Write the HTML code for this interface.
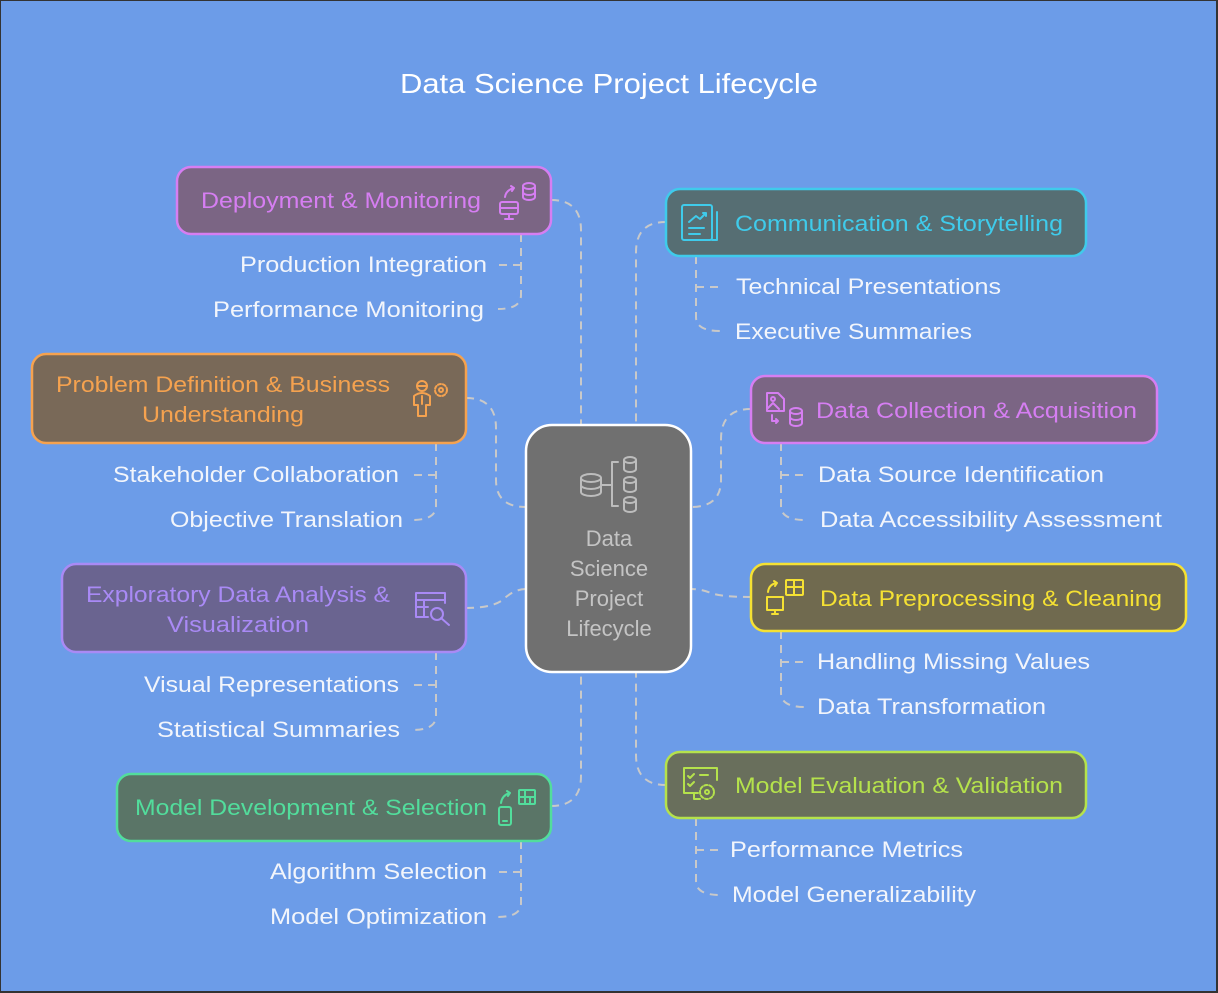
<!DOCTYPE html>
<html><head><meta charset="utf-8"><style>
html,body{margin:0;padding:0;}
body{width:1218px;height:993px;overflow:hidden;background:#333;}
svg{display:block;}
text{font-family:"Liberation Sans",sans-serif;}
.s{fill:#f2f5fb;font-size:22px;}
.c{fill:none;stroke:#c9c9c9;stroke-width:2;stroke-dasharray:8 6;}
.i{fill:none;stroke-width:2;stroke-linecap:round;stroke-linejoin:round;}
</style></head><body>
<svg width="1218" height="993" viewBox="0 0 1218 993" xmlns="http://www.w3.org/2000/svg">
<rect x="1" y="1" width="1215" height="990" fill="#6c9ce8"/>
<text x="609" y="93" text-anchor="middle" fill="#ffffff" font-size="28" textLength="418" lengthAdjust="spacingAndGlyphs">Data Science Project Lifecycle</text>

<!-- main connectors -->
<path class="c" d="M551 200 Q581 200 581 230 L581 425"/>
<path class="c" d="M666 222 Q636 222 636 252 L636 425"/>
<path class="c" d="M466 398 Q496 398 496 428 L496 480 Q496 507 526 507"/>
<path class="c" d="M751 409 Q721 409 721 439 L721 480 Q721 507 691 507"/>
<path class="c" d="M466 608 Q496 608 506 597 Q516 589 526 589"/>
<path class="c" d="M751 597 Q721 597 711 593 Q701 589 691 589"/>
<path class="c" d="M551 806 Q581 806 581 776 L581 672"/>
<path class="c" d="M666 785 Q636 785 636 755 L636 672"/>

<!-- sub connectors -->
<path class="c" d="M521 234 L521 295 Q521 309 498 309 M521 265 L498 265"/>
<path class="c" d="M696 256 L696 317 Q696 331 720 331 M696 287 L720 287"/>
<path class="c" d="M436 443 L436 506 Q436 520 412 520 M436 475 L412 475"/>
<path class="c" d="M781 443 L781 506 Q781 520 805 520 M781 475 L805 475"/>
<path class="c" d="M436 652 L436 716 Q436 730 412 730 M436 685 L412 685"/>
<path class="c" d="M781 631 L781 693 Q781 707 805 707 M781 662 L805 662"/>
<path class="c" d="M521 841 L521 903 Q521 917 498 917 M521 872 L498 872"/>
<path class="c" d="M696 818 L696 881 Q696 895 720 895 M696 850 L720 850"/>

<!-- center -->
<rect x="526" y="425" width="165" height="247" rx="26" fill="#707070" stroke="#ffffff" stroke-width="2.5"/>
<g class="i" stroke="#bdbdbd">
<ellipse cx="591" cy="478" rx="10" ry="4"/><path d="M581 478 V492 A10 4 0 0 0 601 492 V478 M581 485 A10 4 0 0 0 601 485"/>
<path d="M601 485 H612 M618 462 H612 V506 H618"/>
<ellipse cx="630" cy="460" rx="6" ry="3"/><path d="M624 460 V469 A6 3 0 0 0 636 469 V460"/>
<ellipse cx="630" cy="480" rx="6" ry="3"/><path d="M624 480 V489 A6 3 0 0 0 636 489 V480"/>
<ellipse cx="630" cy="500" rx="6" ry="3"/><path d="M624 500 V509 A6 3 0 0 0 636 509 V500"/>
</g>
<g fill="#c4c4c4" font-size="22" text-anchor="middle">
<text x="609" y="546">Data</text><text x="609" y="576">Science</text><text x="609" y="606">Project</text><text x="609" y="636">Lifecycle</text>
</g>

<!-- Deployment -->
<rect x="177" y="167" width="374" height="67" rx="14" fill="#7b6584" stroke="#d67ef2" stroke-width="2.5"/>
<text x="201" y="208" fill="#d67ef2" font-size="22" textLength="280" lengthAdjust="spacingAndGlyphs">Deployment &amp; Monitoring</text>
<g class="i" stroke="#d67ef2"><rect x="500" y="202" width="18" height="12" rx="2"/><path d="M505 219 H513 M509 214 V219 M500 208 H518 M505 197 Q506 190 514 188 M511 186 L514 188 L512 191"/><ellipse cx="529" cy="186" rx="6" ry="3"/><path d="M523 186 V197 A6 3 0 0 0 535 197 V186 M523 192 A6 3 0 0 0 535 192"/></g>
<text class="s" x="487" y="272" text-anchor="end" textLength="247" lengthAdjust="spacingAndGlyphs">Production Integration</text>
<text class="s" x="484" y="317" text-anchor="end" textLength="271" lengthAdjust="spacingAndGlyphs">Performance Monitoring</text>

<!-- Communication -->
<rect x="666" y="189" width="420" height="67" rx="14" fill="#566e73" stroke="#3fcbeb" stroke-width="2.5"/>
<g class="i" stroke="#3fcbeb"><rect x="682" y="205" width="30" height="35" rx="2"/><path d="M717 212 V240 H712 M689 222 L696 216 L700 219 L706 213 M703 213 H706 V216 M689 228 H704 M689 234 H700"/></g>
<text x="735" y="231" fill="#3fcbeb" font-size="22" textLength="328" lengthAdjust="spacingAndGlyphs">Communication &amp; Storytelling</text>
<text class="s" x="736" y="294" textLength="265" lengthAdjust="spacingAndGlyphs">Technical Presentations</text>
<text class="s" x="735" y="339" textLength="237" lengthAdjust="spacingAndGlyphs">Executive Summaries</text>

<!-- Problem -->
<rect x="32" y="354" width="434" height="89" rx="14" fill="#796958" stroke="#f5a24f" stroke-width="2.5"/>
<text x="223" y="392" text-anchor="middle" fill="#f5a24f" font-size="22" textLength="334" lengthAdjust="spacingAndGlyphs">Problem Definition &amp; Business</text>
<text x="223" y="422" text-anchor="middle" fill="#f5a24f" font-size="22" textLength="162" lengthAdjust="spacingAndGlyphs">Understanding</text>
<g class="i" stroke="#f5a24f"><circle cx="422" cy="386" r="5"/><path d="M417 386 H427 M414 405 V396 Q422 390 430 396 V405 H426 V416 H418 V405 Z M422 396 V404"/><circle cx="441" cy="390" r="6" stroke-dasharray="3 2"/><circle cx="441" cy="390" r="2"/></g>
<text class="s" x="399" y="482" text-anchor="end" textLength="286" lengthAdjust="spacingAndGlyphs">Stakeholder Collaboration</text>
<text class="s" x="403" y="527" text-anchor="end" textLength="233" lengthAdjust="spacingAndGlyphs">Objective Translation</text>

<!-- Data Collection -->
<rect x="751" y="376" width="406" height="67" rx="14" fill="#7b6584" stroke="#d67ef2" stroke-width="2.5"/>
<g class="i" stroke="#d67ef2"><path d="M767 393 H778 L784 399 V411 H767 Z"/><circle cx="773" cy="399" r="2"/><path d="M767 409 L773 403 L779 409 M772 415 V421 H778 M776 419 L778 421 L776 423"/><ellipse cx="796" cy="411" rx="6" ry="3"/><path d="M790 411 V423 A6 3 0 0 0 802 423 V411 M790 417 A6 3 0 0 0 802 417"/></g>
<text x="816" y="418" fill="#d67ef2" font-size="22" textLength="321" lengthAdjust="spacingAndGlyphs">Data Collection &amp; Acquisition</text>
<text class="s" x="818" y="482" textLength="286" lengthAdjust="spacingAndGlyphs">Data Source Identification</text>
<text class="s" x="820" y="527" textLength="342" lengthAdjust="spacingAndGlyphs">Data Accessibility Assessment</text>

<!-- EDA -->
<rect x="62" y="564" width="404" height="88" rx="14" fill="#6a6490" stroke="#a98af5" stroke-width="2.5"/>
<text x="238" y="602" text-anchor="middle" fill="#a98af5" font-size="22" textLength="304" lengthAdjust="spacingAndGlyphs">Exploratory Data Analysis &amp;</text>
<text x="238" y="632" text-anchor="middle" fill="#a98af5" font-size="22" textLength="142" lengthAdjust="spacingAndGlyphs">Visualization</text>
<g class="i" stroke="#a98af5"><path d="M428 617 H416 V593 H445 V603 M416 600 H445 M416 607 H428 M424 600 V617"/><circle cx="437" cy="614" r="6"/><path d="M441 618 L449 625"/></g>
<text class="s" x="399" y="692" text-anchor="end" textLength="255" lengthAdjust="spacingAndGlyphs">Visual Representations</text>
<text class="s" x="400" y="737" text-anchor="end" textLength="243" lengthAdjust="spacingAndGlyphs">Statistical Summaries</text>

<!-- Preprocessing -->
<rect x="751" y="564" width="435" height="67" rx="14" fill="#706a4f" stroke="#f5e133" stroke-width="2.5"/>
<g class="i" stroke="#f5e133"><rect x="786" y="580" width="17" height="15" rx="1"/><path d="M786 587 H803 M794 580 V595 M768 592 Q769 584 777 583 M774 581 L777 583 L775 586 M767 597 H783 V610 H767 Z M772 614 H778 M775 610 V614"/></g>
<text x="820" y="606" fill="#f5e133" font-size="22" textLength="342" lengthAdjust="spacingAndGlyphs">Data Preprocessing &amp; Cleaning</text>
<text class="s" x="817" y="669" textLength="273" lengthAdjust="spacingAndGlyphs">Handling Missing Values</text>
<text class="s" x="817" y="714" textLength="229" lengthAdjust="spacingAndGlyphs">Data Transformation</text>

<!-- Model Dev -->
<rect x="117" y="774" width="434" height="67" rx="14" fill="#5a7567" stroke="#52dd9c" stroke-width="2.5"/>
<text x="135" y="815" fill="#52dd9c" font-size="22" textLength="352" lengthAdjust="spacingAndGlyphs">Model Development &amp; Selection</text>
<g class="i" stroke="#52dd9c"><rect x="519" y="790" width="16" height="14" rx="1"/><path d="M519 797 H535 M525 790 V804 M530 797 V804 M501 803 Q502 795 510 793 M507 791 L510 793 L508 796"/><rect x="499" y="807" width="12" height="18" rx="2"/><path d="M503 821 H507"/></g>
<text class="s" x="487" y="879" text-anchor="end" textLength="217" lengthAdjust="spacingAndGlyphs">Algorithm Selection</text>
<text class="s" x="487" y="924" text-anchor="end" textLength="217" lengthAdjust="spacingAndGlyphs">Model Optimization</text>

<!-- Model Eval -->
<rect x="666" y="752" width="420" height="66" rx="14" fill="#696f5c" stroke="#b5e24c" stroke-width="2.5"/>
<g class="i" stroke="#b5e24c"><path d="M698 793 H684 V768 H717 V780 M694 793 V799 H700 M688 776 L690 778 L694 774 M688 784 L690 786 L694 782 M700 775 H708"/><circle cx="707" cy="792" r="7" stroke-dasharray="3 2"/><circle cx="707" cy="792" r="2"/></g>
<text x="735" y="793" fill="#b5e24c" font-size="22" textLength="328" lengthAdjust="spacingAndGlyphs">Model Evaluation &amp; Validation</text>
<text class="s" x="730" y="857" textLength="233" lengthAdjust="spacingAndGlyphs">Performance Metrics</text>
<text class="s" x="732" y="902" textLength="244" lengthAdjust="spacingAndGlyphs">Model Generalizability</text>
</svg>
</body></html>
